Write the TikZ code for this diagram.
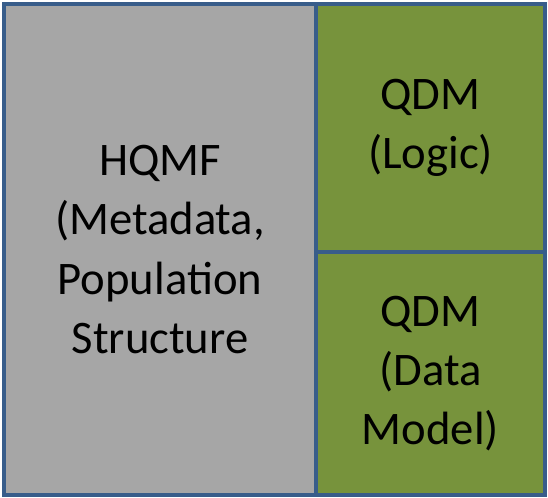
\documentclass[tikz,border=0pt]{standalone}
\usepackage{fontspec}
\setmainfont{Carlito}
\definecolor{hqmfgray}{HTML}{A6A6A6}
\definecolor{qdmgreen}{HTML}{77933C}
\definecolor{boxline}{HTML}{385D8A}
\tikzset{part/.style={draw=boxline, line width=2.5pt, align=center, inner sep=0pt,
  font=\fontsize{33.2}{42.2}\selectfont}}
\begin{document}
\begin{tikzpicture}
\useasboundingbox (0,0) rectangle (13.7,12.45);
\node[part, fill=hqmfgray, minimum width=7.8cm, minimum height=12.275cm] (hqmf) at (4,6.2125) {HQMF\\(Metadata,\\Population\\Structure};
\node[part, fill=qdmgreen, minimum width=5.725cm, minimum height=6.2cm] (logic) at (10.7625,9.25) {QDM\\(Logic)};
\node[part, fill=qdmgreen, minimum width=5.725cm, minimum height=6.075cm] (model) at (10.7625,3.1125) {QDM\\(Data\\Model)};
\end{tikzpicture}
\end{document}
